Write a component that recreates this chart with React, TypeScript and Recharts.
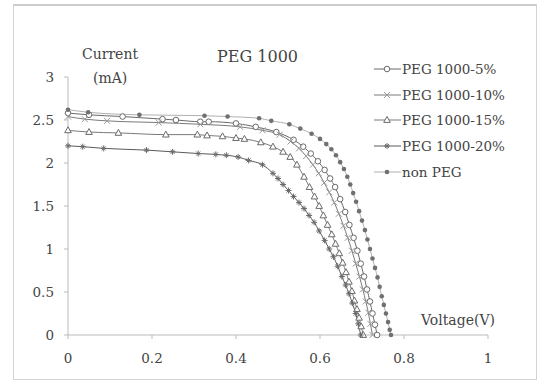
import { Legend, Line, LineChart, XAxis, YAxis } from "recharts";

type Pt = { v: number; i: number };
const toPts = (rows: number[][]): Pt[] => rows.map(([v, i]) => ({ v, i }));

// voltage (V), current (mA) pairs
const peg5 = toPts([
  [0, 2.58], [0.05, 2.56], [0.13, 2.54], [0.225, 2.51], [0.257, 2.5], [0.315, 2.48],
  [0.335, 2.48], [0.4, 2.46], [0.447, 2.42], [0.496, 2.36], [0.537, 2.27], [0.56, 2.19],
  [0.578, 2.11], [0.595, 2.02], [0.611, 1.92], [0.624, 1.82], [0.636, 1.72], [0.648, 1.58],
  [0.66, 1.43], [0.67, 1.28], [0.68, 1.13], [0.689, 0.98], [0.697, 0.83], [0.705, 0.68],
  [0.712, 0.53], [0.719, 0.39], [0.725, 0.25], [0.731, 0.12], [0.736, 0],
]);

const peg10 = toPts([
  [0, 2.54], [0.04, 2.51], [0.093, 2.49], [0.216, 2.47], [0.315, 2.45], [0.41, 2.42],
  [0.463, 2.38], [0.504, 2.33], [0.53, 2.25], [0.55, 2.17], [0.567, 2.08], [0.583, 1.98],
  [0.597, 1.88], [0.61, 1.77], [0.622, 1.66], [0.634, 1.54], [0.645, 1.41], [0.656, 1.27],
  [0.666, 1.13], [0.676, 0.98], [0.685, 0.83], [0.694, 0.68], [0.702, 0.53], [0.709, 0.39],
  [0.715, 0.26], [0.72, 0.13], [0.725, 0],
]);

const peg15 = toPts([
  [0, 2.38], [0.05, 2.36], [0.12, 2.35], [0.233, 2.33], [0.308, 2.33], [0.331, 2.32],
  [0.368, 2.31], [0.4, 2.29], [0.42, 2.28], [0.459, 2.24], [0.488, 2.19], [0.512, 2.13],
  [0.529, 2.07], [0.545, 1.98], [0.562, 1.84], [0.575, 1.72], [0.587, 1.61], [0.598, 1.5],
  [0.608, 1.39], [0.618, 1.28], [0.628, 1.17], [0.637, 1.06], [0.646, 0.95], [0.654, 0.84],
  [0.662, 0.73], [0.669, 0.62], [0.676, 0.51], [0.682, 0.4], [0.688, 0.3], [0.693, 0.2],
  [0.698, 0.1], [0.703, 0],
]);

const peg20 = toPts([
  [0, 2.2], [0.035, 2.19], [0.085, 2.17], [0.187, 2.15], [0.249, 2.13], [0.31, 2.11],
  [0.352, 2.1], [0.377, 2.09], [0.405, 2.07], [0.43, 2.03], [0.463, 1.98], [0.488, 1.88],
  [0.5, 1.82], [0.512, 1.75], [0.525, 1.68], [0.537, 1.61], [0.55, 1.54], [0.562, 1.47],
  [0.574, 1.39], [0.586, 1.31], [0.598, 1.21], [0.611, 1.1], [0.622, 1.0], [0.632, 0.91],
  [0.642, 0.8], [0.652, 0.68], [0.661, 0.58], [0.669, 0.48], [0.677, 0.37], [0.685, 0.25],
  [0.691, 0.13], [0.697, 0],
]);

const nonPeg = toPts([
  [0, 2.62], [0.048, 2.59], [0.17, 2.56], [0.325, 2.55], [0.38, 2.54], [0.455, 2.52],
  [0.484, 2.49], [0.527, 2.45], [0.553, 2.4], [0.58, 2.34], [0.6, 2.28], [0.615, 2.22],
  [0.627, 2.16], [0.638, 2.09], [0.648, 2.01], [0.657, 1.93], [0.665, 1.84], [0.672, 1.75],
  [0.679, 1.65], [0.686, 1.55], [0.693, 1.44], [0.7, 1.33], [0.707, 1.22], [0.713, 1.11],
  [0.719, 1.0], [0.725, 0.89], [0.731, 0.78], [0.737, 0.67], [0.742, 0.56], [0.747, 0.45],
  [0.752, 0.35], [0.757, 0.25], [0.762, 0.15], [0.766, 0.06], [0.769, 0],
]);

const xTicks = [0, 0.2, 0.4, 0.6, 0.8, 1];
const yTicks = [0, 0.5, 1, 1.5, 2, 2.5, 3];

const INK = "#6a6a6a";
const AXIS = "#bbb";
const FONT = "'DejaVu Serif', serif";

type Shape = "circle" | "cross" | "triangle" | "star" | "dot";

function Marker({ shape, x, y }: { shape: Shape; x: number; y: number }) {
  const s = 3;
  switch (shape) {
    case "circle":
      return <circle cx={x} cy={y} r={2.8} fill="#fff" stroke={INK} strokeWidth={1} />;
    case "cross":
      return (
        <path
          d={`M${x - s},${y - s}L${x + s},${y + s}M${x - s},${y + s}L${x + s},${y - s}`}
          stroke="#999"
          strokeWidth={1}
        />
      );
    case "triangle":
      return (
        <path
          d={`M${x},${y - 3.5}L${x + 3.3},${y + 2.4}L${x - 3.3},${y + 2.4}Z`}
          fill="#fff"
          stroke={INK}
          strokeWidth={1}
        />
      );
    case "star":
      return (
        <path
          d={`M${x - s},${y}L${x + s},${y}M${x},${y - s}L${x},${y + s}M${x - 2},${y - 2}L${x + 2},${y + 2}M${x - 2},${y + 2}L${x + 2},${y - 2}`}
          stroke={INK}
          strokeWidth={1}
        />
      );
    default:
      return <circle cx={x} cy={y} r={2.3} fill="#707070" stroke="none" />;
  }
}

const dotFor = (shape: Shape) => (p: any) =>
  p.cx == null ? (
    <g key={`n-${shape}-${p.index}`} />
  ) : (
    <g key={`${shape}-${p.index}`}>
      <Marker shape={shape} x={p.cx} y={p.cy} />
    </g>
  );

const series: { name: string; data: Pt[]; shape: Shape; stroke: string }[] = [
  { name: "PEG 1000-5%", data: peg5, shape: "circle", stroke: "#6a6a6a" },
  { name: "PEG 1000-10%", data: peg10, shape: "cross", stroke: "#7a7a7a" },
  { name: "PEG 1000-15%", data: peg15, shape: "triangle", stroke: "#7a7a7a" },
  { name: "PEG 1000-20%", data: peg20, shape: "star", stroke: "#5a5a5a" },
  { name: "non PEG", data: nonPeg, shape: "dot", stroke: "#b0b0b0" },
];

function LegendBox() {
  return (
    <div style={{ fontFamily: FONT, fontSize: 13.5, color: "#444" }}>
      {series.map((s) => (
        <div key={s.name} style={{ display: "flex", alignItems: "center", height: 25.7 }}>
          <svg width={30} height={12}>
            <line x1={2} y1={6} x2={29} y2={6} stroke={s.stroke} strokeWidth={1} />
            <Marker shape={s.shape} x={15} y={6} />
          </svg>
          <span style={{ whiteSpace: "nowrap" }}>{s.name}</span>
        </div>
      ))}
    </div>
  );
}

const textStyle: React.CSSProperties = {
  position: "absolute",
  fontFamily: FONT,
  color: "#444",
  whiteSpace: "nowrap",
  lineHeight: 1,
};

export default function App() {
  return (
    <div
      style={{
        position: "absolute",
        left: 0,
        top: 0,
        width: 541,
        height: 382,
        background: "#fff",
      }}
    >
      <div
        style={{
          position: "absolute",
          left: 13,
          top: 4,
          width: 524,
          height: 376,
          border: "1px solid #d4d4d4",
          borderTop: "2px solid #ccc",
          boxSizing: "border-box",
        }}
      />
      <LineChart
        width={541}
        height={382}
        margin={{ top: 77, right: 53, bottom: 0, left: 0 }}
        style={{ position: "absolute", left: 0, top: 0 }}
      >
        <XAxis
          type="number"
          dataKey="v"
          domain={[0, 1]}
          ticks={xTicks}
          allowDuplicatedCategory={false}
          height={47}
          stroke={AXIS}
          tickSize={4}
          tickMargin={14}
          tick={{ fill: "#444", fontFamily: FONT, fontSize: 13.5 }}
        />
        <YAxis
          type="number"
          domain={[0, 3]}
          ticks={yTicks}
          width={68}
          stroke={AXIS}
          tickSize={4}
          tickMargin={10}
          tick={{ fill: "#444", fontFamily: FONT, fontSize: 13.5 }}
        />
        <Legend
          layout="vertical"
          align="center"
          verticalAlign="middle"
          wrapperStyle={{ top: 56, left: 372, width: 168 }}
          content={() => <LegendBox />}
        />
        {series.map((s) => (
          <Line
            key={s.name}
            name={s.name}
            data={s.data}
            dataKey="i"
            type="monotone"
            stroke={s.stroke}
            strokeWidth={1}
            dot={dotFor(s.shape)}
            activeDot={false}
            isAnimationActive={false}
          />
        ))}
      </LineChart>
      <div style={{ ...textStyle, left: 82, top: 47, fontSize: 14 }}>Current</div>
      <div style={{ ...textStyle, left: 93, top: 71, fontSize: 14 }}>(mA)</div>
      <div style={{ ...textStyle, left: 217, top: 49, fontSize: 16 }}>PEG 1000</div>
      <div style={{ ...textStyle, left: 421, top: 313, fontSize: 14 }}>Voltage(V)</div>
    </div>
  );
}
